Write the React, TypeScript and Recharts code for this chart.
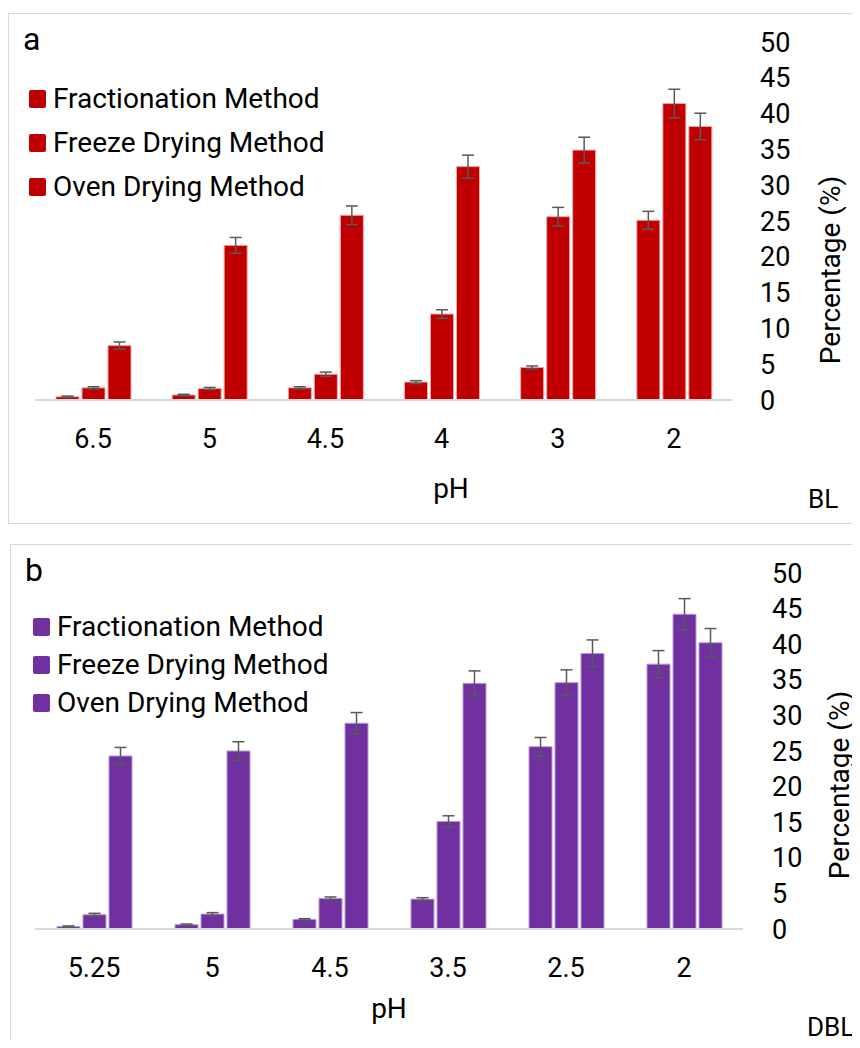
import React from "react";
import { BarChart, Bar, XAxis, YAxis, Legend, ErrorBar } from "recharts";

// panel a (BL)
const phA = ["6.5", "5", "4.5", "4", "3", "2"];
const fracA = [0.45, 0.7, 1.7, 2.5, 4.55, 25.1];
const fracErrA = [0.1, 0.1, 0.15, 0.2, 0.2, 1.25];
const freezeA = [1.7, 1.6, 3.6, 12.0, 25.6, 41.4];
const freezeErrA = [0.15, 0.15, 0.3, 0.6, 1.3, 2.0];
const ovenA = [7.6, 21.6, 25.8, 32.6, 34.9, 38.2];
const ovenErrA = [0.5, 1.1, 1.3, 1.6, 1.8, 1.85];

// panel b (DBL)
const phB = ["5.25", "5", "4.5", "3.5", "2.5", "2"];
const fracB = [0.33, 0.6, 1.35, 4.2, 25.6, 37.2];
const fracErrB = [0.1, 0.1, 0.1, 0.2, 1.3, 1.9];
const freezeB = [2.0, 2.1, 4.3, 15.1, 34.6, 44.2];
const freezeErrB = [0.2, 0.2, 0.2, 0.8, 1.8, 2.2];
const ovenB = [24.3, 25.0, 28.9, 34.5, 38.7, 40.2];
const ovenErrB = [1.2, 1.3, 1.5, 1.75, 1.9, 2.0];

const yTicks = [0, 5, 10, 15, 20, 25, 30, 35, 40, 45, 50];

const FONT = "Roboto, 'DejaVu Sans', sans-serif";

function buildRows(ph: string[], frac: number[], fracErr: number[], freeze: number[], freezeErr: number[], oven: number[], ovenErr: number[]) {
  return ph.map((p, i) => ({
    ph: p,
    frac: frac[i],
    fracErr: fracErr[i],
    freeze: freeze[i],
    freezeErr: freezeErr[i],
    oven: oven[i],
    ovenErr: ovenErr[i],
  }));
}

const rowsA = buildRows(phA, fracA, fracErrA, freezeA, freezeErrA, ovenA, ovenErrA);
const rowsB = buildRows(phB, fracB, fracErrB, freezeB, freezeErrB, ovenB, ovenErrB);

const legendContent = (rowH: number) => (props: any) => (
  <div>
    {(props.payload || []).map((p: any) => (
      <div key={p.value} style={{ height: rowH, display: "flex", alignItems: "center" }}>
        <span style={{ width: 17, height: 18, background: p.color, borderRadius: 2, marginRight: 7, display: "inline-block" }} />
        <span style={{ fontSize: 28, fontFamily: FONT, color: "#000", lineHeight: 1 }}>{p.value}</span>
      </div>
    ))}
  </div>
);

type PanelProps = {
  rows: any[];
  color: string;
  edge: string;
  width: number;
  height: number;
  plotLeft: number;
  plotRight: number;
  plotBottom: number;
  tickGap: number;
  legendLeft: number;
  rowH: number;
  letter: string;
  tag: string;
  tagX: number;
  tagY: number;
  phX: number;
  phY: number;
  pctX: number;
  pctY: number;
};

function Panel(p: PanelProps) {
  const errProps = { width: 6, stroke: "#595959", strokeWidth: 1.5, isAnimationActive: false } as any;
  return (
    <div style={{ position: "absolute", left: -1, top: -1, width: p.width, height: p.height }}>
      <BarChart
        width={p.width}
        height={p.height}
        data={p.rows}
        margin={{ top: 29, right: 0, left: p.plotLeft, bottom: 0 }}
        barSize={23}
        barGap={3}
      >
        <XAxis
          dataKey="ph"
          height={p.height - p.plotBottom}
          tickLine={false}
          tickSize={0}
          tickMargin={29}
          axisLine={{ stroke: "#d9d9d9", strokeWidth: 2 }}
          tick={{ fill: "#000", fontSize: 27, fontFamily: FONT }}
          label={() => (
            <text x={p.phX} y={p.phY} textAnchor="middle" fontSize={28} fontFamily={FONT} fill="#000">
              pH
            </text>
          )}
        />
        <YAxis
          orientation="right"
          width={p.width - p.plotRight}
          domain={[0, 50]}
          ticks={yTicks}
          interval={0}
          axisLine={false}
          tickLine={false}
          tickSize={0}
          tickMargin={p.tickGap}
          tick={{ fill: "#000", fontSize: 27, fontFamily: FONT }}
          label={() => (
            <text
              x={0}
              y={0}
              transform={`translate(${p.pctX}, ${p.pctY}) rotate(-90)`}
              textAnchor="middle"
              fontSize={28}
              fontFamily={FONT}
              fill="#000"
            >
              Percentage (%)
            </text>
          )}
        />
        <Legend
          layout="vertical"
          align="center"
          verticalAlign="middle"
          wrapperStyle={{ left: p.legendLeft, top: 64, width: "auto" }}
          content={legendContent(p.rowH)}
        />
        <Bar dataKey="frac" name="Fractionation Method" fill={p.color} stroke={p.edge} strokeWidth={1} isAnimationActive={false}>
          <ErrorBar dataKey="fracErr" {...errProps} />
        </Bar>
        <Bar dataKey="freeze" name="Freeze Drying Method" fill={p.color} stroke={p.edge} strokeWidth={1} isAnimationActive={false}>
          <ErrorBar dataKey="freezeErr" {...errProps} />
        </Bar>
        <Bar dataKey="oven" name="Oven Drying Method" fill={p.color} stroke={p.edge} strokeWidth={1} isAnimationActive={false}>
          <ErrorBar dataKey="ovenErr" {...errProps} />
        </Bar>
      </BarChart>
      <svg
        width={p.width}
        height={p.height}
        style={{ position: "absolute", left: 0, top: 0, pointerEvents: "none", overflow: "visible" }}
      >
        <text x={15} y={37} fontSize={32} fontFamily={FONT} fill="#000">
          {p.letter}
        </text>
        <text x={p.tagX} y={p.tagY} fontSize={26} fontFamily={FONT} fill="#000">
          {p.tag}
        </text>
      </svg>
    </div>
  );
}

export default function App() {
  return (
    <div style={{ paddingTop: 5, fontFamily: FONT }}>
      <div
        style={{
          position: "relative",
          width: 850,
          height: 511,
          border: "1px solid #d9d9d9",
          boxSizing: "border-box",
        }}
      >
        <Panel
          rows={rowsA}
          color="#C00000"
          edge="#eba6a6"
          width={850}
          height={511}
          plotLeft={27}
          plotRight={724}
          plotBottom={387}
          tickGap={28}
          legendLeft={21}
          rowH={44}
          letter="a"
          tag="BL"
          tagX={800}
          tagY={495}
          phX={443}
          phY={485}
          pctX={832}
          pctY={257}
        />
      </div>
      <div
        style={{
          position: "relative",
          marginTop: 20,
          marginLeft: 2,
          width: 850,
          height: 496,
          borderTop: "1px solid #d9d9d9",
          borderLeft: "1px solid #d9d9d9",
          boxSizing: "border-box",
        }}
      >
        <Panel
          rows={rowsB}
          color="#7030A0"
          edge="#b996d4"
          width={850}
          height={496}
          plotLeft={25}
          plotRight={733}
          plotBottom={385}
          tickGap={29}
          legendLeft={23}
          rowH={38}
          letter="b"
          tag="DBL"
          tagX={797}
          tagY={492}
          phX={379}
          phY={474}
          pctX={839}
          pctY={241}
        />
      </div>
    </div>
  );
}
